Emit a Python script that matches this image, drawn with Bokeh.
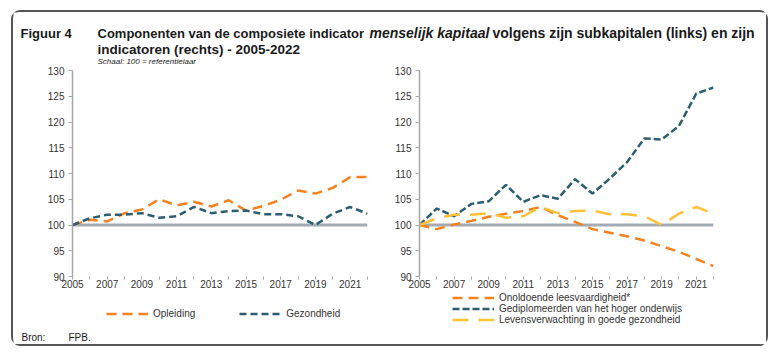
from bokeh.plotting import figure
from bokeh.layouts import column, row
from bokeh.models import Range1d, FixedTicker, Span, Legend, LegendItem
from bokeh.core.properties import value
from bokeh.embed import file_html
from bokeh.resources import INLINE

# ---------------- data ----------------
years = list(range(2005, 2023))

opleiding = [100.0, 101.0, 100.7, 102.3, 103.0, 105.0, 103.8, 104.5, 103.6, 104.8,
             102.8, 103.7, 104.9, 106.7, 106.1, 107.2, 109.3, 109.3]
gezondheid = [100.0, 101.3, 102.0, 102.0, 102.3, 101.4, 101.7, 103.5, 102.3, 102.7,
              102.8, 102.1, 102.1, 101.7, 100.0, 102.2, 103.5, 102.2]

leesvaardigheid = [100.0, 99.2, 100.1, 100.8, 101.6, 102.2, 102.7, 103.5, 101.9, 100.6,
                   99.2, 98.5, 97.8, 97.0, 95.9, 94.8, 93.4, 92.0]
gediplomeerden = [100.0, 103.2, 101.7, 104.1, 104.6, 107.8, 104.5, 105.8, 105.1, 108.9,
                  106.1, 109.0, 112.2, 116.8, 116.6, 119.2, 125.5, 126.7]
levensverwachting = [100.0, 101.3, 102.0, 102.0, 102.3, 101.4, 101.7, 103.5, 102.3, 102.7,
                     102.8, 102.1, 102.1, 101.7, 100.0, 102.2, 103.5, 102.2]

y_ticks = [90, 95, 100, 105, 110, 115, 120, 125, 130]
x_label_years = [2005, 2007, 2009, 2011, 2013, 2015, 2017, 2019, 2021]

title_fig = "Figuur 4"
title_a = "Componenten van de composiete indicator"
title_b = "menselijk kapitaal"
title_c = "volgens zijn subkapitalen (links) en zijn"
title_2 = "indicatoren (rechts) - 2005-2022"
subtitle = "Schaal: 100 = referentiejaar"
left_labels = ["Opleiding", "Gezondheid"]
right_labels = ["Onoldoende leesvaardigheid*",
                "Gediplomeerden van het hoger onderwijs",
                "Levensverwachting in goede gezondheid"]
source_label = "Bron:"
source_text = "FPB."

# ---------------- style ----------------
FONT = "Liberation Sans"
ORANGE = "#F5821F"
TEAL = "#2C5E71"
YELLOW = "#FDC13A"
BASE = "#A4ACB3"
AXIS = "#A6A6A6"
TXT = "#333333"
DARK = "#1a1a1a"

W = 753          # inner width of the framed box
H_HEAD = 52
H_ROW = 228
H_FOOT = 52
W_LEFT = 367

DASH_ORANGE = "10 6"
DASH_TEAL_L = "7 4"
DASH_TEAL_R = "7 3"
DASH_YELLOW = "16 10"


def blank(width, height):
    p = figure(width=width, height=height, output_backend="svg", toolbar_location=None,
               x_range=Range1d(0, width), y_range=Range1d(height, 0), min_border=0)
    p.axis.visible = False
    p.grid.visible = False
    p.outline_line_color = None
    p.background_fill_color = "white"
    p.border_fill_color = "white"
    return p


def make_chart(width, mbl, mbr):
    p = figure(width=width, height=H_ROW, output_backend="svg", toolbar_location=None,
               x_range=Range1d(2005, 2022), y_range=Range1d(90, 130),
               min_border_left=mbl, min_border_right=mbr,
               min_border_top=6, min_border_bottom=H_ROW - 6 - 206)
    p.outline_line_color = None
    p.grid.visible = False
    p.background_fill_color = "white"
    p.border_fill_color = "white"

    p.yaxis.ticker = FixedTicker(ticks=y_ticks)
    p.yaxis.axis_line_color = AXIS
    p.yaxis.axis_line_width = 1.5
    p.yaxis.major_tick_line_color = AXIS
    p.yaxis.major_tick_out = 4
    p.yaxis.major_tick_in = 0
    p.yaxis.minor_tick_line_color = None
    p.yaxis.major_label_standoff = 4
    p.yaxis.major_label_text_font = FONT
    p.yaxis.major_label_text_font_size = "10px"
    p.yaxis.major_label_text_color = TXT

    p.xaxis.ticker = FixedTicker(ticks=years)
    p.xaxis.major_label_overrides = {y: (str(y) if y in x_label_years else "") for y in years}
    p.xaxis.axis_line_color = None
    p.xaxis.major_tick_line_color = AXIS
    p.xaxis.major_tick_out = 3
    p.xaxis.major_tick_in = 0
    p.xaxis.minor_tick_line_color = None
    p.xaxis.major_label_standoff = 0
    p.xaxis.major_label_text_font = FONT
    p.xaxis.major_label_text_font_size = "10px"
    p.xaxis.major_label_text_color = TXT

    p.add_layout(Span(location=100, dimension="width", line_color=BASE,
                      line_width=3, level="underlay"))
    return p


def htext(p, x, y, t, size, style):
    p.text(x=[x], y=[y], text=[t], text_font=value(FONT), text_font_size=size,
           text_font_style=style, text_baseline="alphabetic", text_color=DARK)


# ---------------- header ----------------
head = blank(W, H_HEAD)
htext(head, 7, 20.5, title_fig, "13px", "bold")
htext(head, 84, 20.5, title_a, "13px", "bold")
htext(head, 356, 20.5, title_b, "14px", "bold italic")
htext(head, 479, 20.5, title_c, "14px", "bold")
htext(head, 84, 37, title_2, "13.5px", "bold")
htext(head, 84, 48.5, subtitle, "8px", "italic")

# ---------------- charts ----------------
left = make_chart(W_LEFT, 59, 13)
left.line(years, opleiding, line_color=ORANGE, line_width=2.5, line_dash=DASH_ORANGE)
left.line(years, gezondheid, line_color=TEAL, line_width=2.5, line_dash=DASH_TEAL_L)

right = make_chart(W - W_LEFT, 39, W - W_LEFT - 39 - 294)
right.line(years, leesvaardigheid, line_color=ORANGE, line_width=2.5, line_dash=DASH_ORANGE)
right.line(years, gediplomeerden, line_color=TEAL, line_width=2.5, line_dash=DASH_TEAL_R)
right.line(years, levensverwachting, line_color=YELLOW, line_width=2.5, line_dash=DASH_YELLOW)

# ---------------- footer (legends, source) ----------------
foot = blank(W, H_FOOT)
nan = [float("nan")]
l1 = foot.line(nan, nan, line_color=ORANGE, line_width=2.5, line_dash=DASH_ORANGE)
l2 = foot.line(nan, nan, line_color=TEAL, line_width=2.5, line_dash=DASH_TEAL_L)
r1 = foot.line(nan, nan, line_color=ORANGE, line_width=2.5, line_dash=DASH_ORANGE)
r2 = foot.line(nan, nan, line_color=TEAL, line_width=2.5, line_dash=DASH_TEAL_R)
r3 = foot.line(nan, nan, line_color=YELLOW, line_width=2.5, line_dash=DASH_YELLOW)

leg_left = Legend(items=[LegendItem(label=left_labels[0], renderers=[l1]),
                         LegendItem(label=left_labels[1], renderers=[l2])],
                  orientation="horizontal", location=(93, 25), spacing=44)
leg_right = Legend(items=[LegendItem(label=right_labels[0], renderers=[r1]),
                          LegendItem(label=right_labels[1], renderers=[r2]),
                          LegendItem(label=right_labels[2], renderers=[r3])],
                   orientation="vertical", location=(439, 19), spacing=0)
for lg in (leg_left, leg_right):
    lg.border_line_color = None
    lg.background_fill_alpha = 0
    lg.padding = 0
    lg.margin = 0
    lg.glyph_width = 42
    lg.glyph_height = 11
    lg.label_height = 11
    lg.label_standoff = 5
    lg.label_text_font = FONT
    lg.label_text_font_size = "10px"
    lg.label_text_color = TXT
    foot.add_layout(lg)

htext(foot, 8, 45, source_label, "10px", "normal")
htext(foot, 55, 45, source_text, "10px", "normal")

layout = column(head, row(left, right), foot, margin=(10, 0, 0, 11),
                styles={"border": "2px solid #555555", "border-radius": "9px",
                        "background-color": "white"})

open("out.html", "w").write(file_html(layout, INLINE))
